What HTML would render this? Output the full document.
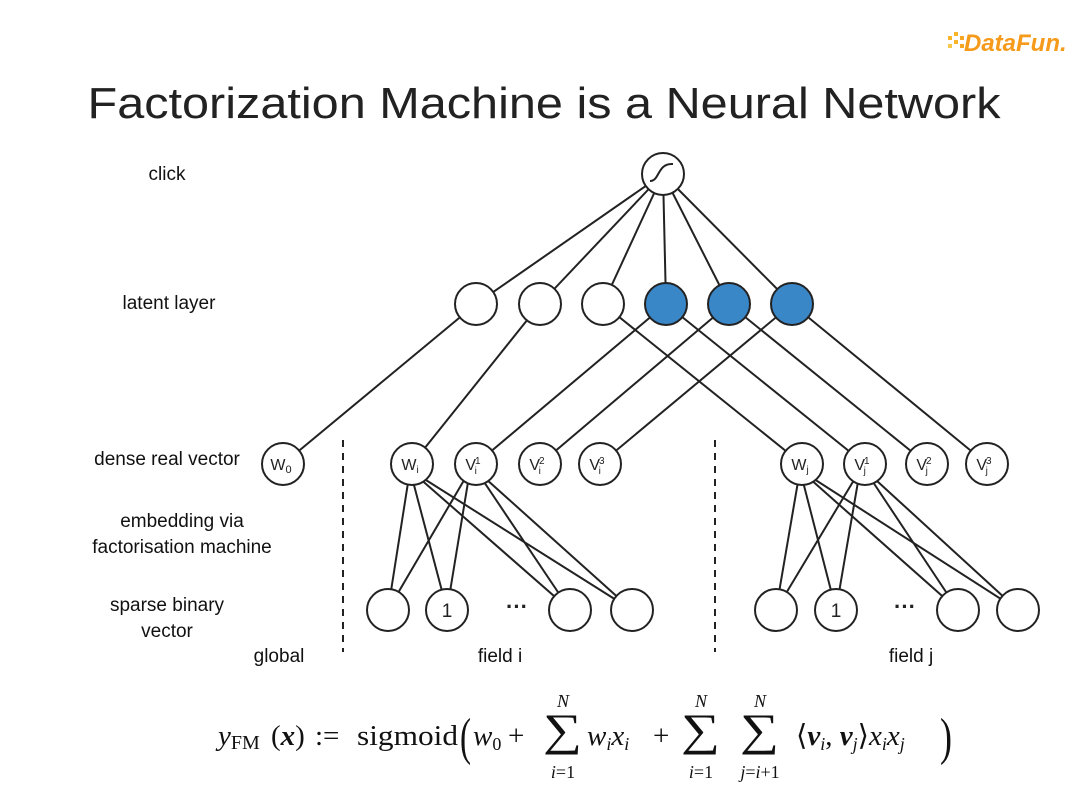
<!DOCTYPE html>
<html><head><meta charset="utf-8"><style>
html,body{margin:0;padding:0;background:#fff;}
svg{display:block;}
</style></head><body>
<svg width="1080" height="810" viewBox="0 0 1080 810" xmlns="http://www.w3.org/2000/svg">
<rect width="1080" height="810" fill="#fff"/>
<g font-family="Liberation Sans, sans-serif" font-style="italic" font-weight="bold">
  <rect x="948" y="36" width="4" height="4" fill="#f7b52a"/><rect x="954" y="32" width="4" height="4" fill="#f7b52a"/>
  <rect x="954" y="40" width="4" height="4" fill="#f7b52a"/><rect x="960" y="36" width="4" height="4" fill="#f5a623"/>
  <rect x="948" y="44" width="4" height="4" fill="#f7c84a"/><rect x="960" y="44" width="4" height="4" fill="#f5a623"/>
  <text x="964" y="51" font-size="24" fill="#f59a1b">DataFun.</text>
</g>
<text x="544" y="118" text-anchor="middle" font-family="Liberation Sans, sans-serif" font-size="44" fill="#222" textLength="913" lengthAdjust="spacingAndGlyphs">Factorization Machine is a Neural Network</text>

<g font-family="Liberation Sans, sans-serif" font-size="19" fill="#111" text-anchor="middle">
  <text x="167" y="180">click</text>
  <text x="169" y="309">latent layer</text>
  <text x="167" y="465">dense real vector</text>
  <text x="182" y="527">embedding via</text>
  <text x="182" y="553">factorisation machine</text>
  <text x="167" y="611">sparse binary</text>
  <text x="167" y="637">vector</text>
  <text x="279" y="662">global</text>
  <text x="500" y="662">field i</text>
  <text x="911" y="662">field j</text>
</g>

<g stroke="#222" stroke-width="2" fill="none">
  <line x1="343" y1="440" x2="343" y2="652" stroke-dasharray="7,6"/>
  <line x1="715" y1="440" x2="715" y2="652" stroke-dasharray="7,6"/>
  <line x1="663" y1="174" x2="476" y2="304"/>
  <line x1="663" y1="174" x2="540" y2="304"/>
  <line x1="663" y1="174" x2="603" y2="304"/>
  <line x1="663" y1="174" x2="666" y2="304"/>
  <line x1="663" y1="174" x2="729" y2="304"/>
  <line x1="663" y1="174" x2="792" y2="304"/>
  <line x1="476" y1="304" x2="283" y2="464"/>
  <line x1="540" y1="304" x2="412" y2="464"/>
  <line x1="603" y1="304" x2="802" y2="464"/>
  <line x1="666" y1="304" x2="476" y2="464"/>
  <line x1="666" y1="304" x2="865" y2="464"/>
  <line x1="729" y1="304" x2="540" y2="464"/>
  <line x1="729" y1="304" x2="927" y2="464"/>
  <line x1="792" y1="304" x2="600" y2="464"/>
  <line x1="792" y1="304" x2="987" y2="464"/>
  <line x1="410" y1="470" x2="388" y2="610"/><line x1="410" y1="470" x2="447" y2="610"/>
  <line x1="410" y1="470" x2="570" y2="610"/><line x1="410" y1="470" x2="632" y2="610"/>
  <line x1="470" y1="470" x2="388" y2="610"/><line x1="470" y1="470" x2="447" y2="610"/>
  <line x1="476" y1="470" x2="570" y2="610"/><line x1="476" y1="470" x2="632" y2="610"/>
  <line x1="800" y1="470" x2="776" y2="610"/><line x1="800" y1="470" x2="836" y2="610"/>
  <line x1="800" y1="470" x2="958" y2="610"/><line x1="800" y1="470" x2="1018" y2="610"/>
  <line x1="860" y1="470" x2="776" y2="610"/><line x1="860" y1="470" x2="836" y2="610"/>
  <line x1="865" y1="470" x2="958" y2="610"/><line x1="865" y1="470" x2="1018" y2="610"/>
</g>

<g stroke="#222" stroke-width="2">
  <circle cx="663" cy="174" r="21" fill="#fff"/>
  <path d="M650 181 C660 181 657 163 673 164" fill="none"/>
  <circle cx="476" cy="304" r="21" fill="#fff"/>
  <circle cx="540" cy="304" r="21" fill="#fff"/>
  <circle cx="603" cy="304" r="21" fill="#fff"/>
  <circle cx="666" cy="304" r="21" fill="#3a87c8"/>
  <circle cx="729" cy="304" r="21" fill="#3a87c8"/>
  <circle cx="792" cy="304" r="21" fill="#3a87c8"/>
  <circle cx="283" cy="464" r="21" fill="#fff"/>
  <circle cx="412" cy="464" r="21" fill="#fff"/>
  <circle cx="476" cy="464" r="21" fill="#fff"/>
  <circle cx="540" cy="464" r="21" fill="#fff"/>
  <circle cx="600" cy="464" r="21" fill="#fff"/>
  <circle cx="802" cy="464" r="21" fill="#fff"/>
  <circle cx="865" cy="464" r="21" fill="#fff"/>
  <circle cx="927" cy="464" r="21" fill="#fff"/>
  <circle cx="987" cy="464" r="21" fill="#fff"/>
  <circle cx="388" cy="610" r="21" fill="#fff"/>
  <circle cx="447" cy="610" r="21" fill="#fff"/>
  <circle cx="570" cy="610" r="21" fill="#fff"/>
  <circle cx="632" cy="610" r="21" fill="#fff"/>
  <circle cx="776" cy="610" r="21" fill="#fff"/>
  <circle cx="836" cy="610" r="21" fill="#fff"/>
  <circle cx="958" cy="610" r="21" fill="#fff"/>
  <circle cx="1018" cy="610" r="21" fill="#fff"/>
</g>

<g font-family="Liberation Sans, sans-serif" fill="#222" text-anchor="middle">
  <g font-size="16">
    <text x="281" y="470">W<tspan font-size="11" dy="3">0</tspan></text>
    <text x="410" y="470">W<tspan font-size="10" dy="3">i</tspan></text>
    <text x="473" y="470">V<tspan font-size="10" dx="-1" dy="-6">1</tspan><tspan font-size="10" dx="-6" dy="10">i</tspan></text>
    <text x="537" y="470">V<tspan font-size="10" dx="-1" dy="-6">2</tspan><tspan font-size="10" dx="-6" dy="10">i</tspan></text>
    <text x="597" y="470">V<tspan font-size="10" dx="-1" dy="-6">3</tspan><tspan font-size="10" dx="-6" dy="10">i</tspan></text>
    <text x="800" y="470">W<tspan font-size="10" dy="3">j</tspan></text>
    <text x="862" y="470">V<tspan font-size="10" dx="-1" dy="-6">1</tspan><tspan font-size="10" dx="-6" dy="10">j</tspan></text>
    <text x="924" y="470">V<tspan font-size="10" dx="-1" dy="-6">2</tspan><tspan font-size="10" dx="-6" dy="10">j</tspan></text>
    <text x="984" y="470">V<tspan font-size="10" dx="-1" dy="-6">3</tspan><tspan font-size="10" dx="-6" dy="10">j</tspan></text>
  </g>
  <g font-size="19">
    <text x="447" y="617">1</text>
    <text x="836" y="617">1</text>
  </g>
  <g font-size="22" font-weight="bold">
    <text x="517" y="614">···</text>
    <text x="905" y="614">···</text>
  </g>
</g>

<g font-family="Liberation Serif, serif" font-size="29" fill="#111">
  <text x="218" y="745" font-style="italic">y<tspan font-style="normal" font-size="20" dy="4">FM</tspan></text>
  <text x="271" y="745">(<tspan font-style="italic" font-weight="bold">x</tspan>)</text>
  <text x="315" y="745">:=</text>
  <text x="357" y="745" textLength="101" lengthAdjust="spacingAndGlyphs">sigmoid</text>
  <text x="460" y="754" font-size="52" textLength="11" lengthAdjust="spacingAndGlyphs">(</text>
  <text x="473" y="745" font-style="italic">w<tspan font-style="normal" font-size="18" dy="5">0</tspan></text>
  <text x="508" y="745">+</text>
  <text x="543" y="745" font-size="45" textLength="39" lengthAdjust="spacingAndGlyphs">∑</text>
  <text x="563" y="707" font-size="18" font-style="italic" text-anchor="middle">N</text>
  <text x="563" y="778" font-size="18" text-anchor="middle"><tspan font-style="italic">i</tspan>=1</text>
  <text x="587" y="745" font-style="italic">w<tspan font-size="18" dy="5">i</tspan><tspan dy="-5">x</tspan><tspan font-size="18" dy="5">i</tspan></text>
  <text x="653" y="745">+</text>
  <text x="681" y="745" font-size="45" textLength="39" lengthAdjust="spacingAndGlyphs">∑</text>
  <text x="701" y="707" font-size="18" font-style="italic" text-anchor="middle">N</text>
  <text x="701" y="778" font-size="18" text-anchor="middle"><tspan font-style="italic">i</tspan>=1</text>
  <text x="740" y="745" font-size="45" textLength="39" lengthAdjust="spacingAndGlyphs">∑</text>
  <text x="760" y="707" font-size="18" font-style="italic" text-anchor="middle">N</text>
  <text x="760" y="778" font-size="18" text-anchor="middle"><tspan font-style="italic">j</tspan>=<tspan font-style="italic">i</tspan>+1</text>
  <text x="796" y="745">⟨<tspan font-style="italic" font-weight="bold">v</tspan><tspan font-style="italic" font-size="18" dy="5">i</tspan><tspan dy="-5">, </tspan><tspan font-style="italic" font-weight="bold">v</tspan><tspan font-style="italic" font-size="18" dy="5">j</tspan><tspan dy="-5">⟩</tspan><tspan font-style="italic">x</tspan><tspan font-style="italic" font-size="18" dy="5">i</tspan><tspan font-style="italic" dy="-5">x</tspan><tspan font-style="italic" font-size="18" dy="5">j</tspan></text>
  <text x="940" y="754" font-size="52" textLength="12" lengthAdjust="spacingAndGlyphs">)</text>
</g>
</svg>
</body></html>
